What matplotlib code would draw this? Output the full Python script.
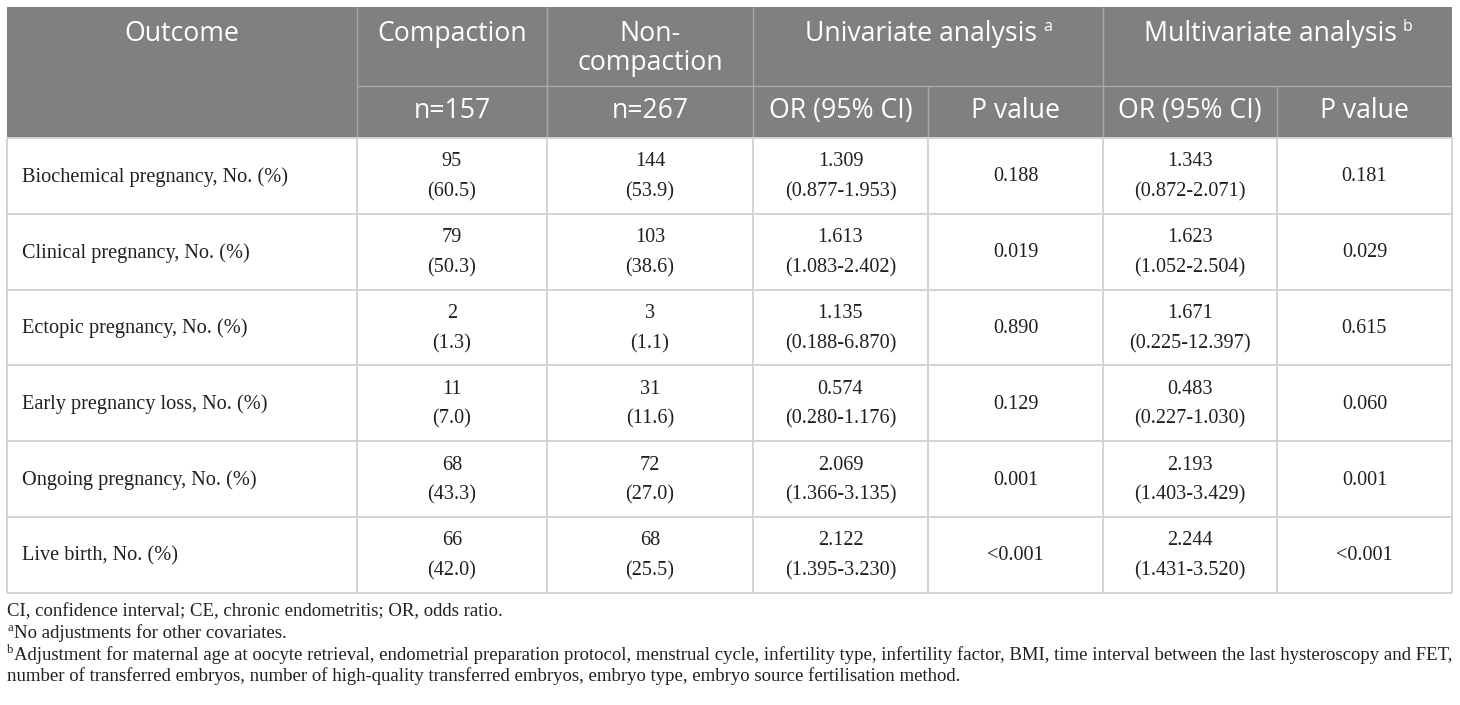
import matplotlib

matplotlib.use("Agg")
import matplotlib.pyplot as plt
from matplotlib.patches import Rectangle

# table content
outcomes = [
    "Biochemical pregnancy, No. (%)",
    "Clinical pregnancy, No. (%)",
    "Ectopic pregnancy, No. (%)",
    "Early pregnancy loss, No. (%)",
    "Ongoing pregnancy, No. (%)",
    "Live birth, No. (%)",
]
comp_n = [95, 79, 2, 11, 68, 66]
comp_pct = [60.5, 50.3, 1.3, 7.0, 43.3, 42.0]
non_n = [144, 103, 3, 31, 72, 68]
non_pct = [53.9, 38.6, 1.1, 11.6, 27.0, 25.5]
uni_or = ["1.309", "1.613", "1.135", "0.574", "2.069", "2.122"]
uni_ci = ["0.877-1.953", "1.083-2.402", "0.188-6.870", "0.280-1.176", "1.366-3.135", "1.395-3.230"]
uni_p = ["0.188", "0.019", "0.890", "0.129", "0.001", "<0.001"]
multi_or = ["1.343", "1.623", "1.671", "0.483", "2.193", "2.244"]
multi_ci = ["0.872-2.071", "1.052-2.504", "0.225-12.397", "0.227-1.030", "1.403-3.429", "1.431-3.520"]
multi_p = ["0.181", "0.029", "0.615", "0.060", "0.001", "<0.001"]

footnotes = [
    ("", "CI, confidence interval; CE, chronic endometritis; OR, odds ratio."),
    ("a", "No adjustments for other covariates."),
    ("b", "Adjustment for maternal age at oocyte retrieval, endometrial preparation protocol, "
          "menstrual cycle, infertility type, infertility factor, BMI, time interval between "
          "the last hysteroscopy and FET,"),
    ("", "number of transferred embryos, number of high-quality transferred embryos, "
         "embryo type, embryo source fertilisation method."),
]

# layout (pixels)
W, H = 1460, 705
cols = [7, 357, 547, 753, 928, 1103, 1277, 1452]
y_top, y_mid, y_head = 7, 86, 138
row_h = 75.8

HEAD_BG = "#7f807f"
HEAD_LINE = "#a9a9a9"
GRID = "#d3d3d3"
TXT = "#231f20"
SANS = "Open Sans"
SERIF = "Liberation Serif"

fig = plt.figure(figsize=(W / 100, H / 100), dpi=100)
ax = fig.add_axes([0, 0, 1, 1])
ax.set_xlim(0, W)
ax.set_ylim(H, 0)
ax.axis("off")

# header block
ax.add_patch(Rectangle((cols[0], y_top), cols[-1] - cols[0], y_head - y_top,
                       facecolor=HEAD_BG, edgecolor="none"))
ax.hlines(y_mid, cols[1], cols[-1], color=HEAD_LINE, lw=1.0)
for x in [cols[1], cols[2], cols[3], cols[5]]:
    ax.vlines(x, y_top, y_head, color=HEAD_LINE, lw=1.0)
for x in [cols[4], cols[6]]:
    ax.vlines(x, y_mid, y_head, color=HEAD_LINE, lw=1.0)

hs = 19.2
def ctr(i):
    return (cols[i] + cols[i + 1]) / 2

ax.text(ctr(0), 34, "Outcome", fontsize=hs, family=SANS, color="white", ha="center", va="center")
ax.text(ctr(1), 34, "Compaction", fontsize=hs, family=SANS, color="white", ha="center", va="center")
ax.text(ctr(2), 34, "Non-", fontsize=hs, family=SANS, color="white", ha="center", va="center")
ax.text(ctr(2), 63, "compaction", fontsize=hs, family=SANS, color="white", ha="center", va="center")
for i0, label, sup in [(3, "Univariate analysis", "a"), (5, "Multivariate analysis", "b")]:
    cx = (cols[i0] + cols[i0 + 2]) / 2
    t = ax.text(cx - 7, 34, label, fontsize=hs, family=SANS, color="white", ha="center", va="center")
    bb = t.get_window_extent(fig.canvas.get_renderer())
    xr = ax.transData.inverted().transform((bb.x1, bb.y1))[0]
    ax.text(xr + 6, 27, sup, fontsize=11.5, family=SANS, color="white", ha="left", va="center")

sub = ["n=157", "n=267", "OR (95% CI)", "P value", "OR (95% CI)", "P value"]
for i, s in enumerate(sub):
    ax.text(ctr(i + 1), 111, s, fontsize=hs, family=SANS, color="white", ha="center", va="center")

# body
bs = 14.6
n = len(outcomes)
for r in range(n + 1):
    ax.hlines(y_head + r * row_h, cols[0], cols[-1], color=GRID, lw=1.4)
for x in cols:
    ax.vlines(x, y_head, y_head + n * row_h, color=GRID, lw=1.4)

for r in range(n):
    yc = y_head + (r + 0.5) * row_h
    ax.text(22, yc + 1, outcomes[r], fontsize=bs, family=SERIF, color=TXT, ha="left", va="center")
    pairs = [
        (1, str(comp_n[r]), f"({comp_pct[r]:.1f})"),
        (2, str(non_n[r]), f"({non_pct[r]:.1f})"),
        (3, uni_or[r], f"({uni_ci[r]})"),
        (5, multi_or[r], f"({multi_ci[r]})"),
    ]
    for c, top, bot in pairs:
        ax.text(ctr(c), yc - 14, top, fontsize=bs, family=SERIF, color=TXT, ha="center", va="center")
        ax.text(ctr(c), yc + 16, bot, fontsize=bs, family=SERIF, color=TXT, ha="center", va="center")
    ax.text(ctr(4), yc + 1, uni_p[r], fontsize=bs, family=SERIF, color=TXT, ha="center", va="center")
    ax.text(ctr(6), yc + 1, multi_p[r], fontsize=bs, family=SERIF, color=TXT, ha="center", va="center")

# footnotes
fs = 13.5
fy = [612, 633, 655, 676]
for (sup, txt), y in zip(footnotes, fy):
    x = 7
    if sup:
        ax.text(x, y - 5, sup, fontsize=9, family=SERIF, color=TXT, ha="left", va="center")
        x += 7
    ax.text(x, y, txt, fontsize=fs, family=SERIF, color=TXT, ha="left", va="center")

fig.savefig("out.png", dpi=100)
